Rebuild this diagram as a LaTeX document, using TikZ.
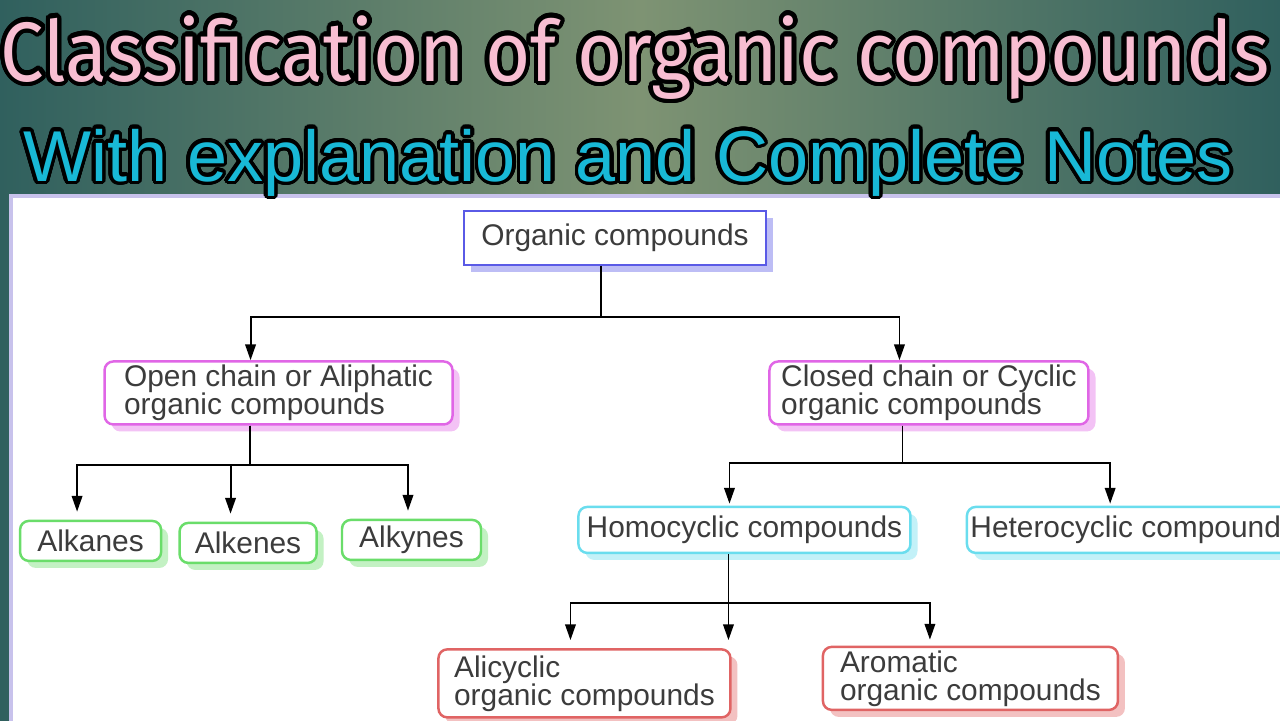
\documentclass[tikz,border=0pt]{standalone}
\usepackage{fontspec}
\setmainfont{Liberation Sans}
\newfontfamily\titlefont[FakeStretch=0.92]{Fira Sans}
\usepackage{contour}
\contournumber{32}
\usetikzlibrary{arrows.meta, positioning, shadows}
\definecolor{cBlue}{HTML}{5A5AE6}
\definecolor{cMagenta}{HTML}{E066E6}
\definecolor{cGreen}{HTML}{6ADD6A}
\definecolor{cCyan}{HTML}{6ADDEE}
\definecolor{cRed}{HTML}{E06464}
\definecolor{cText}{HTML}{3C3C3C}
\definecolor{cTeal}{HTML}{30605E}
\definecolor{cOlive}{HTML}{7E9373}
\definecolor{cLavender}{HTML}{C8C2EC}
\definecolor{cPink}{HTML}{F8BED2}
\definecolor{cSky}{HTML}{18B8D6}
\tikzset{
  box/.style={
    rectangle, rounded corners=5pt, draw=#1, fill=white, line width=1.4pt,
    text=cText, align=left, inner sep=2pt,
    font=\fontsize{17}{16}\selectfont,
    drop shadow={fill=#1!40, shadow xshift=4pt, shadow yshift=-4pt, opacity=1}
  },
  rootbox/.style={box=cBlue, sharp corners, minimum width=6.04cm, minimum height=1.08cm},
  mbox/.style={box=cMagenta, minimum height=1.2cm},
  gbox/.style={box=cGreen, minimum height=0.8cm},
  cbox/.style={box=cCyan, minimum width=6.64cm, minimum height=0.92cm},
  rbox/.style={box=cRed},
  arrow/.style={-{Triangle[length=9pt, width=6pt]}, line width=1.1pt, black},
  headline/.style={anchor=base, inner sep=0pt},
}

\begin{document}
\begin{tikzpicture}

  % Backdrop and sheet
  \useasboundingbox (0,0) rectangle (25.6,-14.4);
  \shade[left color=cTeal, right color=cTeal, middle color=cOlive]
    (0,0) rectangle (25.6,-14.4);
  \fill[white, draw=cLavender, line width=0.07cm]
    (0.22,-3.92) rectangle (25.9,-14.7);

  % Headings
  \contourlength{2.4pt}
  \node[headline, text=cPink, font=\titlefont\fontsize{48}{50}\selectfont]
    (title) at (12.7,-1.62) {\contour{black}{Classification of organic compounds}};
  \contourlength{2pt}
  \node[headline, text=cSky, font=\fontsize{41}{44}\selectfont]
    (subtitle) at (12.56,-3.62) {\contour{black}{With explanation and Complete Notes}};

  % Root
  \node[rootbox] (root) at (12.3,-4.76) {Organic compounds};

  % Chain types
  \node[mbox, minimum width=6.96cm, below left=1.88cm and 0.18cm of root] (open)
    {Open chain or Aliphatic\\organic compounds};
  \node[mbox, minimum width=6.38cm, below right=1.88cm and 0.02cm of root] (closed)
    {Closed chain or Cyclic\\organic compounds};

  % Aliphatic families
  \node[gbox, minimum width=2.74cm, below=1.92cm of open, xshift=-0.61cm] (alkenes) {Alkenes};
  \node[gbox, minimum width=2.82cm, left=0.32cm of alkenes, yshift=0.04cm] (alkanes) {Alkanes};
  \node[gbox, minimum width=2.78cm, right=0.46cm of alkenes, yshift=0.06cm] (alkynes) {Alkynes};

  % Cyclic families
  \node[cbox, below=1.6cm of closed, xshift=-3.69cm] (homo) {Homocyclic compounds};
  \node[cbox, right=1.08cm of homo] (hetero) {Heterocyclic compounds};

  % Homocyclic kinds
  \node[rbox, minimum width=5.84cm, minimum height=1.36cm, below=1.88cm of homo, xshift=-3.2cm] (alicyclic)
    {Alicyclic\\organic compounds};
  \node[rbox, minimum width=5.9cm, minimum height=1.24cm, right=1.8cm of alicyclic, yshift=0.1cm] (aromatic)
    {Aromatic\\organic compounds};

  % Arrows
  \draw[arrow] ([xshift=-0.28cm]root.south) -- ++(0,-1.02) -| ([xshift=-0.56cm]open.north);
  \draw[arrow] ([xshift=-0.28cm]root.south) -- ++(0,-1.02) -| ([xshift=-0.59cm]closed.north);
  \draw[arrow, shorten >=0.16cm] ([xshift=-0.58cm]open.south) -- ++(0,-0.78) -| ([xshift=-0.27cm]alkanes.north);
  \draw[arrow, shorten >=0.16cm] ([xshift=-0.58cm]open.south) -- ++(0,-0.78) -| ([xshift=-0.35cm]alkenes.north);
  \draw[arrow, shorten >=0.16cm] ([xshift=-0.58cm]open.south) -- ++(0,-0.78) -| ([xshift=-0.07cm]alkynes.north);
  \draw[arrow, shorten >=0.04cm] ([xshift=-0.53cm]closed.south) -- ++(0,-0.74) -| ([xshift=-0.3cm]homo.north);
  \draw[arrow, shorten >=0.04cm] ([xshift=-0.53cm]closed.south) -- ++(0,-0.74) -| ([xshift=-0.46cm]hetero.north);
  \draw[arrow, shorten >=0.16cm] ([xshift=-0.32cm]homo.south) -- ++(0,-0.98) -| ([xshift=-0.28cm]alicyclic.north);
  \draw[arrow, shorten >=0.16cm] ([xshift=-0.32cm]homo.south) -- ++(0,-0.98) -| ([xshift=2.88cm]alicyclic.north);
  \draw[arrow, shorten >=0.12cm] ([xshift=-0.32cm]homo.south) -- ++(0,-0.98) -| ([xshift=-0.81cm]aromatic.north);

\end{tikzpicture}
\end{document}
